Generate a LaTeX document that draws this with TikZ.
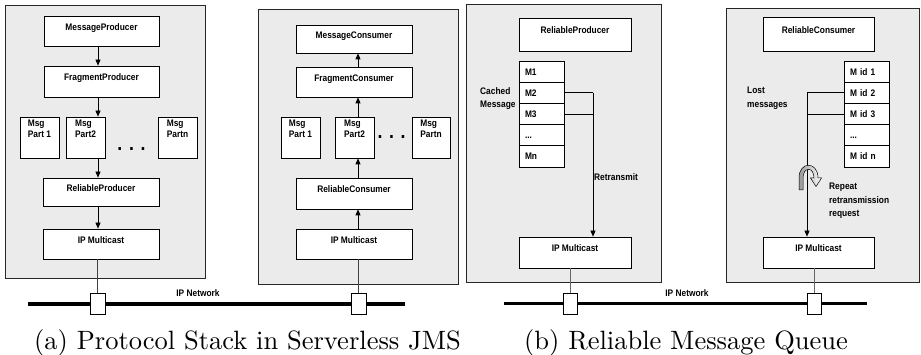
\documentclass[tikz,border=0pt]{standalone}
\usepackage{fontspec}
\newfontfamily\lblfont[FakeStretch=0.88]{Liberation Sans}
\newfontfamily\capfont[Extension=.otf]{lmroman10-regular}
\usetikzlibrary{arrows.meta}
\definecolor{panelgray}{HTML}{EBEBEB}
\tikzset{
  lbl/.style={font=\lblfont\bfseries\fontsize{9.5}{13.5}\selectfont},
  panel/.style={draw=black!85, fill=panelgray, line width=0.8pt, inner sep=0pt},
  box/.style={lbl, draw, fill=white, line width=0.7pt, inner sep=0pt, text height=7pt, text depth=8pt},
  partbox/.style={lbl, draw, fill=white, line width=0.7pt, inner sep=0pt, minimum width=39, minimum height=41, align=left, font=\lblfont\bfseries\fontsize{9.5}{11.5}\selectfont},
  row/.style={lbl, draw, fill=white, line width=0.7pt, inner sep=0pt, minimum width=45, minimum height=21.2, text width=33, align=left, text height=7pt, text depth=0pt},
  sq/.style={draw, fill=white, line width=0.7pt, inner sep=0pt, minimum width=15, minimum height=21},
  arr/.style={line width=0.7pt, -{Triangle[length=6pt,width=5pt]}},
  conn/.style={line width=0.7pt},
  net/.style={line width=3.6pt},
  dots/.style={font=\lblfont\bfseries\fontsize{20}{20}\selectfont, inner sep=0pt},
  capt/.style={font=\capfont\fontsize{26.5}{30}\selectfont, anchor=base, inner sep=0pt}
}
\begin{document}
\begin{tikzpicture}[x=1pt,y=-1pt]
\useasboundingbox (0,0) rectangle (921,355);

% ---------------- panel (a) producer ----------------
\node[panel, minimum width=200, minimum height=273] (pa1) at (105,141.5) {};
\node[box, minimum width=115, minimum height=30] (mp) at (101.5,31) {MessageProducer};
\node[box, minimum width=115, minimum height=31] (fp) at (101.5,81.5) {FragmentProducer};
\node[partbox] (p1a) at (39.5,137.5) {Msg\\Part 1\\[6pt]};
\node[partbox] (p2a) at (85.5,137.5) {Msg\\Part2\\[6pt]};
\node[partbox] (pna) at (177.5,137.5) {Msg\\Partn\\[6pt]};
\node[dots] (dta) at (131.5,149) {.\,\,.\,\,.};
\node[box, minimum width=116, minimum height=28] (rp) at (101,192) {ReliableProducer};
\node[box, minimum width=116, minimum height=30] (ipa) at (101,244) {IP Multicast};
\coordinate (axa) at (98,0);
\draw[arr] (mp.south -| axa) -- (fp.north -| axa);
\draw[arr] (fp.south -| axa) -- (p2a.north -| axa);
\draw[arr] (p2a.south -| axa) -- (rp.north -| axa);
\draw[arr] (rp.south -| axa) -- (ipa.north -| axa);

% ---------------- panel (a) consumer ----------------
\node[panel, minimum width=200, minimum height=275] (pa2) at (358,146.5) {};
\node[box, minimum width=116, minimum height=28] (mc) at (354,39) {MessageConsumer};
\node[box, minimum width=116, minimum height=30] (fc) at (354,82) {FragmentConsumer};
\node[partbox] (p1b) at (300.5,137.5) {Msg\\Part 1\\[6pt]};
\node[partbox] (p2b) at (354.5,137.5) {Msg\\Part2\\[6pt]};
\node[partbox, minimum width=38] (pnb) at (431,137.5) {Msg\\Partn\\[6pt]};
\node[dots] (dtb) at (391.5,137) {.\,\,.\,\,.};
\node[box, minimum width=116, minimum height=31] (rc) at (354,193.5) {ReliableConsumer};
\node[box, minimum width=116, minimum height=30] (ipb) at (354,244) {IP Multicast};
\coordinate (axb) at (358,0);
\draw[arr] (ipb.north -| axb) -- (rc.south -| axb);
\draw[arr] (rc.north -| axb) -- (p2b.south -| axb);
\draw[arr] (p2b.north -| axb) -- (fc.south -| axb);
\draw[arr] (fc.north -| axb) -- (mc.south -| axb);

% network (a)
\coordinate (n1w) at (28,304);
\coordinate (n1e) at (405,304);
\draw[net] (n1w) -- (n1e);
\node[sq] (sqa1) at (97.5,303.5) {};
\node[sq] (sqa2) at (358.5,303.5) {};
\draw[conn, black!75] (ipa.south -| sqa1) -- (sqa1.north);
\draw[conn, black!75] (sqa2.north) -- (ipb.south -| sqa2);
\node[lbl, anchor=base] (neta) at (198,297) {IP Network};
\node[capt] (capa) at (247.5,349) {(a) Protocol Stack in Serverless JMS};

% ---------------- panel (b) producer ----------------
\node[panel, minimum width=195, minimum height=278] (pb1) at (563.5,143) {};
\node[box, minimum width=112, minimum height=33] (rpb) at (575,34.5) {ReliableProducer};
\node[row] (m1) at (541.5,71.6) {M1};
\node[row] (m2) at (541.5,92.8) {M2};
\node[row] (m3) at (541.5,114) {M3};
\node[row] (m4) at (541.5,135.2) {...};
\node[row] (m5) at (541.5,156.4) {Mn};
\node[lbl, anchor=north west, align=left, inner sep=0pt] (cached) at (480,87) {Cached\\Message};
\node[box, minimum width=112, minimum height=31] (ipc) at (575,252.5) {IP Multicast};
\coordinate (rtx) at (593,92.8);
\draw[conn] (m2.east) -- (rtx);
\draw[conn] (m3.east) -- (m3.east -| rtx);
\draw[arr] (rtx) -- (ipc.north -| rtx);
\node[lbl, anchor=base west, inner sep=0pt] (retr) at (594,181) {Retransmit};

% ---------------- panel (b) consumer ----------------
\node[panel, minimum width=193, minimum height=274] (pb2) at (822.5,145) {};
\node[box, minimum width=111, minimum height=34] (rcb) at (818.5,34) {ReliableConsumer};
\node[row] (d1) at (866.5,71.6) {M id 1};
\node[row] (d2) at (866.5,92.8) {M id 2};
\node[row] (d3) at (866.5,114) {M id 3};
\node[row] (d4) at (866.5,135.2) {...};
\node[row] (d5) at (866.5,156.4) {M id n};
\node[lbl, anchor=north west, align=left, inner sep=0pt] (lost) at (747,87) {Lost\\messages};
\node[box, minimum width=111, minimum height=31] (ipd) at (818.5,252.5) {IP Multicast};
\coordinate (lmx) at (807,92.8);
\draw[conn] (d2.west) -- (lmx);
\draw[conn] (d3.west) -- (d3.west -| lmx);
\draw[arr] (lmx) -- (ipd.north -| lmx);
% curled repeat arrow
\draw[line width=0.5pt, left color=black!40, right color=white]
  (799,190) -- (799,178) .. controls (799,161) and (818,161) .. (818,178)
  -- (821.5,178) -- (816,186.5) -- (810.5,178) -- (814,178)
  .. controls (814,166.5) and (803,166.5) .. (803,178) -- (803,190) -- cycle;
\node[lbl, anchor=north west, align=left, inner sep=0pt] (rep) at (829,183) {Repeat\\retransmission\\request};

% network (b)
\coordinate (n2w) at (504,303.5);
\coordinate (n2e) at (867,303.5);
\draw[net] (n2w) -- (n2e);
\node[sq, minimum width=14] (sqb1) at (570,303.5) {};
\node[sq, minimum width=14] (sqb2) at (814,303.5) {};
\draw[conn, black!60] (ipc.south -| sqb1) -- (sqb1.north);
\draw[conn, black!60] (ipd.south -| sqb2) -- (sqb2.north);
\node[lbl, anchor=base] (netb) at (687,297) {IP Network};
\node[capt] (capb) at (686,349) {(b) Reliable Message Queue};
\end{tikzpicture}
\end{document}
